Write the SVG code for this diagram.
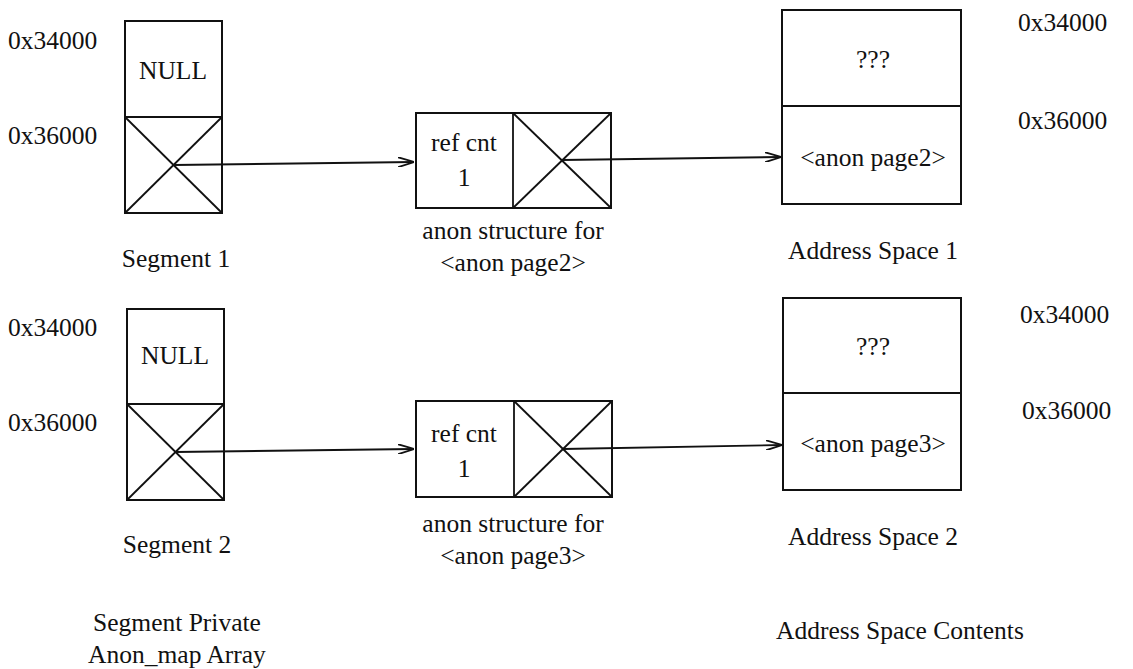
<svg xmlns="http://www.w3.org/2000/svg" width="1133" height="669" viewBox="0 0 1133 669">
<style>
text{font-family:"Liberation Serif","Times New Roman",serif;font-size:25.5px;fill:#111}
.m{text-anchor:middle}
.b{fill:#fff;stroke:#111;stroke-width:2}
.l{stroke:#111;stroke-width:1.8;fill:none}
.c{stroke:#111;stroke-width:1.8;fill:none;marker-end:url(#ah)}
</style>
<defs>
<marker id="ah" viewBox="0 0 16 10" refX="16" refY="5" markerWidth="16" markerHeight="10" markerUnits="userSpaceOnUse" orient="auto">
<path d="M0,0 L16,5 L0,10" fill="none" stroke="#111" stroke-width="1.8"/>
</marker>
</defs>
<rect width="1133" height="669" fill="#fff"/>

<g id="seg1">
<rect class="b" x="125" y="21" width="97" height="192"/>
<line class="l" x1="125" y1="117" x2="222" y2="117"/>
<line class="l" x1="125" y1="117" x2="222" y2="213"/>
<line class="l" x1="222" y1="117" x2="125" y2="213"/>
<text class="m" x="173" y="79">NULL</text>
<text x="8" y="49">0x34000</text>
<text x="8" y="144">0x36000</text>
<text class="m" x="176" y="267">Segment 1</text>
</g>

<g id="anon1">
<rect class="b" x="416" y="113" width="195" height="95"/>
<line class="l" x1="513" y1="113" x2="513" y2="208"/>
<line class="l" x1="513" y1="113" x2="611" y2="208"/>
<line class="l" x1="611" y1="113" x2="513" y2="208"/>
<text class="m" x="464" y="151">ref cnt</text>
<text class="m" x="464" y="186">1</text>
<text class="m" x="513" y="239">anon structure for</text>
<text class="m" x="513" y="271">&lt;anon page2&gt;</text>
</g>

<g id="as1">
<rect class="b" x="782" y="10" width="179" height="194"/>
<line class="l" x1="782" y1="106" x2="961" y2="106"/>
<text class="m" x="873" y="68">???</text>
<text class="m" x="873" y="166">&lt;anon page2&gt;</text>
<text x="1018" y="31">0x34000</text>
<text x="1018" y="129">0x36000</text>
<text class="m" x="873" y="259">Address Space 1</text>
</g>

<g id="seg2">
<rect class="b" x="127" y="309" width="97" height="191"/>
<line class="l" x1="127" y1="404" x2="224" y2="404"/>
<line class="l" x1="127" y1="404" x2="224" y2="500"/>
<line class="l" x1="224" y1="404" x2="127" y2="500"/>
<text class="m" x="175" y="364">NULL</text>
<text x="8" y="336">0x34000</text>
<text x="8" y="431">0x36000</text>
<text class="m" x="177" y="553">Segment 2</text>
</g>

<g id="anon2">
<rect class="b" x="416" y="401" width="196" height="96"/>
<line class="l" x1="514" y1="401" x2="514" y2="497"/>
<line class="l" x1="514" y1="401" x2="612" y2="497"/>
<line class="l" x1="612" y1="401" x2="514" y2="497"/>
<text class="m" x="464" y="442">ref cnt</text>
<text class="m" x="464" y="477">1</text>
<text class="m" x="513" y="532">anon structure for</text>
<text class="m" x="513" y="564">&lt;anon page3&gt;</text>
</g>

<g id="as2">
<rect class="b" x="783" y="298" width="178" height="192"/>
<line class="l" x1="783" y1="393" x2="961" y2="393"/>
<text class="m" x="873" y="355">???</text>
<text class="m" x="873" y="452">&lt;anon page3&gt;</text>
<text x="1020" y="323">0x34000</text>
<text x="1022" y="419">0x36000</text>
<text class="m" x="873" y="545">Address Space 2</text>
</g>

<g id="captions">
<text class="m" x="177" y="631">Segment Private</text>
<text class="m" x="177" y="663">Anon_map Array</text>
<text x="776" y="639">Address Space Contents</text>
</g>

<g id="connectors">
<path class="c" d="M174,165 L414,162"/>
<path class="c" d="M562,160 L781,157"/>
<path class="c" d="M175,452 L414,449"/>
<path class="c" d="M563,449 L782,445"/>
</g>
</svg>
